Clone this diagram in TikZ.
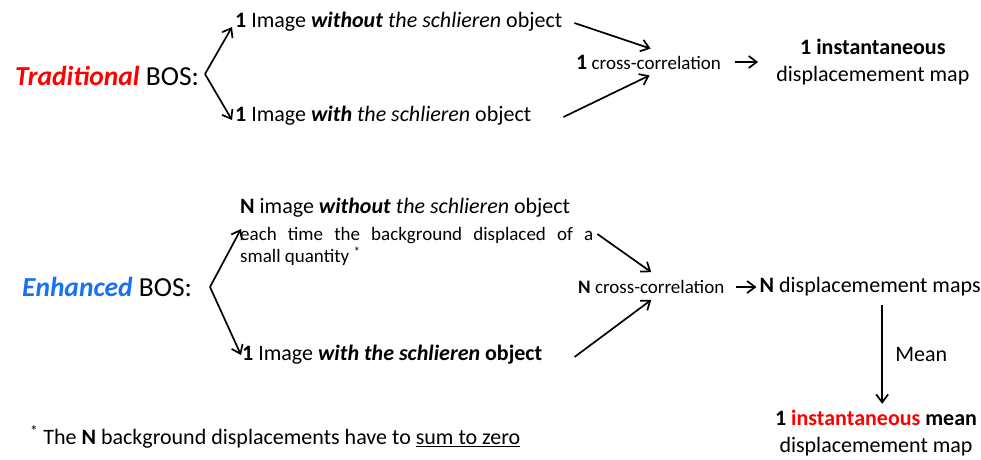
\documentclass[tikz,border=0pt]{standalone}
\usepackage{fontspec}
\setmainfont{Carlito}
\usepackage{tikz}
\usetikzlibrary{positioning,arrows.meta,calc}
\definecolor{enhblue}{RGB}{25,115,240}
\tikzstyle{ltxt}=[inner sep=0pt, anchor=west, font=\fontsize{22}{26}\selectfont]
\tikzstyle{stxt}=[inner sep=0pt, anchor=west, font=\fontsize{19}{22}\selectfont]
\tikzstyle{mbox}=[inner sep=0pt, align=center, font=\fontsize{22}{27}\selectfont]
\tikzstyle{parrow}=[-{Straight Barb[length=8pt,width=12pt]}, line width=1.7pt]

\begin{document}
\begin{tikzpicture}[x=1pt, y=-1pt]
\useasboundingbox (0,0) rectangle (981,459);

% traditional BOS
\node (TRAD) [ltxt, font=\fontsize{27.5}{30}\selectfont] at (15,76)
 {\textcolor{red}{\textbf{\textit{Traditional}}} BOS:};
\coordinate (VA) at (205,74);
\node (IMGA) [ltxt] at (235,22) {\textbf{1} Image \textbf{\textit{without}} \textit{the schlieren} object};
\node (IMGB) [ltxt] at (235,116) {\textbf{1} Image \textbf{\textit{with}} \textit{the schlieren} object};
 \draw[parrow] (VA) -- ($(IMGA.west)+(-3,5)$);
 \draw[parrow] (VA) -- ($(IMGB.west)+(-3,4)$);
\node (CCA) [stxt] at (576,62) {{\fontsize{22}{22}\selectfont\textbf{1}} cross-correlation};
 \draw[parrow] ($(IMGA.east)+(12,1)$) -- ($(CCA.north)+(2,-6)$);
 \draw[parrow] ($(IMGB.east)+(32,1)$) -- ($(CCA.south)+(1,6)$);
\node (MAPA) [mbox, right=55pt of CCA] {\textbf{1 instantaneous}\\displacemement map};
 \draw[parrow] ($(CCA.east)+(14,0)$) -- ($(CCA.east)+(37,0)$);

% enhanced BOS
\node (ENH) [ltxt, font=\fontsize{27.5}{30}\selectfont] at (22,287)
 {\textcolor{enhblue}{\textbf{\textit{Enhanced}}} BOS:};
\coordinate (VB) at (210,287);
\node (IMGC) [ltxt] at (240,208) {\textbf{N} image \textbf{\textit{without}} \textit{the schlieren} object};
\node (DESC) [inner sep=0pt, anchor=north west, align=left,
 font=\fontsize{19}{22}\selectfont] at (240,227)
 {\makebox[353pt][s]{each time the background displaced of a}\\small quantity \textsuperscript{*}};
\node (IMGD) [ltxt] at (242,355) {\textbf{1} Image \textbf{\textit{with the schlieren}} \textbf{object}};
 \draw[parrow] (VB) -- ($(IMGC.west)+(1,21)$);
 \draw[parrow] (VB) -- ($(IMGD.west)+(-1,0)$);
\node (CCB) [stxt] at (578,287) {\textbf{N} cross-correlation};
 \draw[parrow] ($(DESC.north east)+(4,7)$) -- ($(CCB.north)+(0,-8)$);
 \draw[parrow] ($(IMGD.east)+(32,2)$) -- ($(CCB.south)+(0,6)$);
\node (MAPB) [ltxt, right=35pt of CCB] {\textbf{N} displacemement maps};
 \draw[parrow] ($(CCB.east)+(12,0)$) -- ($(MAPB.west)+(-3,0)$);
\node (MAPC) [mbox] at (876,433) {\textbf{1 \textcolor{red}{instantaneous} mean}\\displacemement map};
\coordinate (MTOP) at ($(MAPB.south)+(12,8)$);
\coordinate (MBOT) at ($(MAPC.north)+(0,-6)$);
 \draw[parrow] (MTOP) -- (MTOP |- MBOT) node (MEAN) [midway, right=9pt, font=\fontsize{22}{26}\selectfont] {Mean};

% footnote
\node (NOTE) [ltxt] at (30,437)
 {\textsuperscript{*} The \textbf{N} background displacements have to \underline{sum to zero}};

\end{tikzpicture}
\end{document}
